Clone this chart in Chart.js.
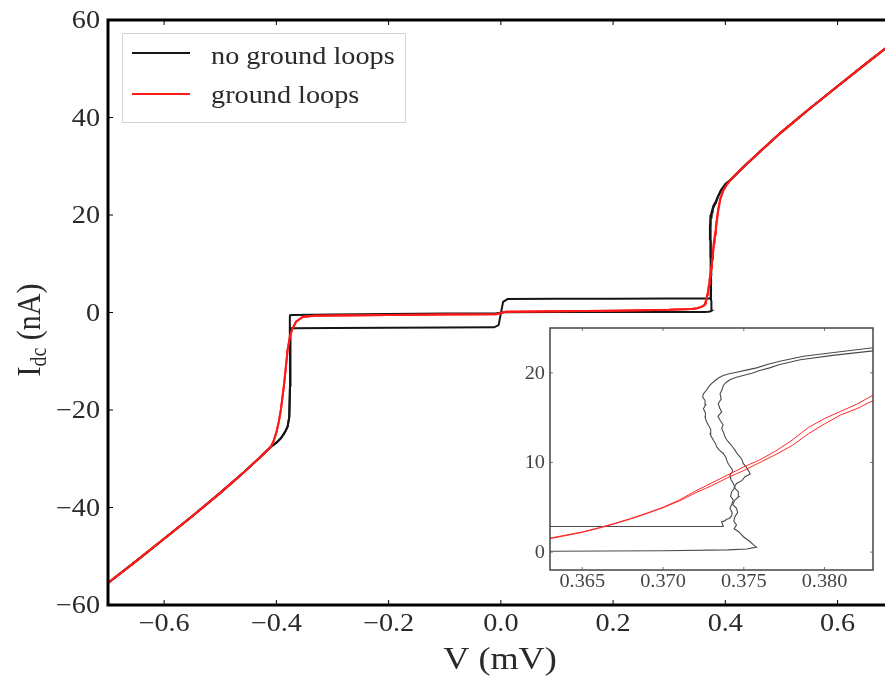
<!DOCTYPE html>
<html>
<head>
<meta charset="utf-8">
<title>I-V curve</title>
<script src="https://cdn.jsdelivr.net/npm/chart.js@4.4.0/dist/chart.umd.min.js"></script>
<style>
  html, body { margin: 0; padding: 0; background: #fff; }
  #wrap { position: relative; width: 885px; height: 679px; }
  #main { position: absolute; left: 0; top: 0; }
  #inset { position: absolute; left: 505px; top: 320px; }
</style>
</head>
<body>
<div id="wrap">
  <canvas id="main" width="885" height="679"></canvas>
  <canvas id="inset" width="380" height="280"></canvas>
</div>
<script>
// --- tick labels / legend ---
const xTicks = [-0.6, -0.4, -0.2, 0.0, 0.2, 0.4, 0.6];
const yTicks = [-60, -40, -20, 0, 20, 40, 60];
const insetXTicks = [0.365, 0.370, 0.375, 0.380];
const insetYTicks = [0, 10, 20];
const seriesNames = ['no ground loops', 'ground loops'];

// --- quasiparticle branches (shared by every sweep), V in mV, I in nA ---
const negBranchV = [-0.70, -0.65, -0.60, -0.55, -0.50, -0.46, -0.43, -0.41];
const negBranchI = [-55.5, -51.0, -46.4, -41.8, -37.0, -33.0, -29.8, -27.6];
const posBranchV = [0.41, 0.43, 0.46, 0.50, 0.55, 0.60, 0.65, 0.70];
const posBranchI = [27.3, 29.6, 32.8, 37.0, 41.8, 46.4, 51.0, 55.5];

// --- no ground loops, sweep 1 (upper step on the left, lower step on the right) ---
const blackAV = [-0.400, -0.392, -0.385, -0.380, -0.377, -0.3757, -0.3758, -0.3760, -0.3755, -0.370,
  -0.300, -0.200, -0.100, -0.008, 0.008, 0.100, 0.200, 0.300, 0.363, 0.370, 0.3740, 0.3752,
  0.37579, 0.37560, 0.37538, 0.37520, 0.37496, 0.37480, 0.37466, 0.37440, 0.37455, 0.37438,
  0.37445, 0.37462, 0.37455, 0.37432, 0.37445, 0.37470, 0.37466, 0.37440, 0.37455, 0.37490,
  0.37507, 0.37540, 0.37527, 0.37515, 0.37496, 0.37490, 0.37476, 0.37460, 0.37445, 0.37432,
  0.37414, 0.37395, 0.37383, 0.37376, 0.37363, 0.37372, 0.37353, 0.37340, 0.37363, 0.37350,
  0.37342, 0.37360, 0.37353, 0.37365, 0.37373, 0.37392, 0.37414, 0.37450, 0.37496, 0.37550,
  0.37599, 0.37660, 0.37723, 0.3785, 0.3805, 0.3830, 0.387, 0.392, 0.400];
const blackAI = [-26.7, -25.8, -24.6, -23.4, -21.4, -15.0, -5.0, -1.0, -0.55, -0.5,
  -0.42, -0.33, -0.22, -0.15, 0.05, 0.08, 0.10, 0.10, 0.10, 0.15, 0.25, 0.35,
  0.55, 0.80, 1.18, 1.40, 1.74, 2.05, 2.29, 2.60, 3.03, 3.45,
  3.96, 4.40, 4.89, 5.30, 5.81, 6.20, 6.74, 7.20, 7.66, 8.00,
  8.40, 8.70, 9.14, 9.50, 9.89, 10.25, 10.63, 10.95, 11.37, 11.70,
  12.11, 12.50, 12.85, 13.30, 13.77, 14.20, 14.70, 15.15, 15.63, 16.10,
  16.55, 17.10, 17.66, 18.10, 18.59, 18.95, 19.22, 19.48, 19.70, 19.95,
  20.26, 20.55, 20.92, 21.45, 21.95, 22.45, 23.8, 25.0, 26.3];

// --- no ground loops, sweep 2 (lower step on the left, upper step on the right) ---
const blackBV = [-0.400, -0.392, -0.385, -0.380, -0.377, -0.3757, -0.3757, -0.374,
  -0.300, -0.200, -0.100, -0.012, -0.004, 0.004, 0.012, 0.100, 0.200, 0.300, 0.363, 0.370,
  0.37373, 0.37363, 0.37380, 0.37394, 0.37410, 0.37425, 0.37428, 0.37414, 0.37425, 0.37435,
  0.37418, 0.37425, 0.37445, 0.37435, 0.37420, 0.37414, 0.37432, 0.37425, 0.37405, 0.37394,
  0.37388, 0.37373, 0.37350, 0.37332, 0.37325, 0.37312, 0.37300, 0.37291, 0.37295, 0.37281,
  0.37268, 0.37260, 0.37262, 0.37250, 0.37265, 0.37260, 0.37245, 0.37250, 0.37268, 0.37281,
  0.37300, 0.37322, 0.37345, 0.37373, 0.37410, 0.37455, 0.37515, 0.37579, 0.37650, 0.37723,
  0.3787, 0.3807, 0.3830, 0.387, 0.392, 0.400];
const blackBI = [-26.7, -25.8, -24.6, -23.4, -21.4, -15.0, -3.6, -3.25,
  -3.2, -3.15, -3.1, -3.05, -2.6, 2.2, 2.75, 2.8, 2.82, 2.85, 2.85, 2.85,
  2.85, 3.40, 3.45, 3.66, 3.75, 4.03, 4.40, 4.89, 5.30, 5.81,
  6.25, 6.74, 7.20, 7.66, 8.10, 8.59, 8.95, 9.33, 9.80, 10.26,
  10.60, 11.00, 11.35, 11.74, 12.10, 12.48, 12.85, 13.22, 13.70, 14.14,
  14.60, 15.07, 15.55, 16.00, 16.45, 16.92, 17.30, 17.66, 18.05, 18.40,
  18.80, 19.14, 19.45, 19.70, 19.90, 20.07, 20.30, 20.55, 20.95, 21.29,
  21.85, 22.3, 22.8, 23.8, 25.0, 26.3];

// --- ground loops, sweep 1 and sweep 2 ---
const redUpV = [-0.405, -0.400, -0.396, -0.392, -0.386, -0.380, -0.376, -0.372, -0.365, -0.353,
  -0.333, -0.200, -0.100, -0.008, 0.008, 0.100, 0.200, 0.300, 0.340, 0.350, 0.356, 0.360,
  0.363, 0.364, 0.365, 0.366, 0.367, 0.368, 0.369, 0.370, 0.371, 0.372, 0.373, 0.374,
  0.375, 0.376, 0.377, 0.378, 0.379, 0.380, 0.381, 0.382, 0.383, 0.387, 0.391, 0.396, 0.403];
const redUpI = [-26.4, -24.6, -22.6, -20.0, -14.5, -7.7, -5.0, -3.5, -1.9, -0.9,
  -0.65, -0.5, -0.42, -0.35, 0.15, 0.25, 0.38, 0.55, 0.72, 0.88, 1.1, 1.3,
  1.56, 1.9, 2.25, 2.7, 3.2, 3.75, 4.35, 5.0, 5.8, 6.8, 7.7, 8.6,
  9.5, 10.3, 11.3, 12.5, 13.9, 14.9, 15.7, 16.5, 17.5, 21.0, 23.4, 25.0, 26.3];
const redDownV = [-0.405, -0.400, -0.396, -0.392, -0.386, -0.380, -0.376, -0.372, -0.365, -0.353,
  -0.333, -0.200, -0.100, -0.008, 0.008, 0.100, 0.200, 0.300, 0.340, 0.350, 0.356, 0.360,
  0.363, 0.364, 0.365, 0.366, 0.367, 0.368, 0.369, 0.370, 0.371, 0.372, 0.373, 0.374,
  0.375, 0.376, 0.377, 0.378, 0.379, 0.380, 0.381, 0.382, 0.383, 0.387, 0.391, 0.396, 0.403];
const redDownI = [-26.4, -24.6, -22.6, -20.0, -14.5, -7.7, -5.0, -3.5, -1.9, -0.9,
  -0.65, -0.5, -0.42, -0.35, 0.15, 0.25, 0.38, 0.55, 0.72, 0.88, 1.1, 1.3,
  1.5, 1.85, 2.2, 2.65, 3.15, 3.7, 4.3, 4.95, 5.7, 6.6, 7.4, 8.3,
  9.1, 10.0, 10.9, 11.9, 13.2, 14.3, 15.3, 16.0, 16.9, 20.6, 23.2, 24.9, 26.3];

const BLACK = '#151515';
const RED = '#ff1a1a';
const SERIF = '"Liberation Serif", "Times New Roman", serif';
const STRETCH = 1.13; // the original lettering is a little wider than Times

// build a full sweep: left branch -> middle -> right branch
function sweep(midV, midI) {
  const vs = [...negBranchV, ...midV, ...posBranchV];
  const is = [...negBranchI, ...midI, ...posBranchI];
  return vs.map((v, k) => ({ x: v, y: is[k] }));
}

function fmt(v, d) {
  const s = Math.abs(v).toFixed(d);
  return v < 0 ? '\u2212' + s : s;
}

function text(ctx, str, x, y, size, align, color) {
  ctx.save();
  ctx.font = size + 'px ' + SERIF;
  ctx.fillStyle = color;
  ctx.textAlign = align;
  ctx.textBaseline = 'alphabetic';
  ctx.translate(x, y);
  ctx.scale(STRETCH, 1);
  ctx.fillText(str, 0, 0);
  ctx.restore();
}

function seg(ctx, x1, y1, x2, y2) {
  ctx.beginPath();
  ctx.moveTo(x1, y1);
  ctx.lineTo(x2, y2);
  ctx.stroke();
}

function makeDatasets(lwBlack, lwRed, black, red) {
  return [
    { label: seriesNames[1], data: sweep(redUpV, redUpI), borderColor: red, borderWidth: lwRed, order: 0 },
    { label: seriesNames[1], data: sweep(redDownV, redDownI), borderColor: red, borderWidth: lwRed, order: 0 },
    { label: seriesNames[0], data: sweep(blackAV, blackAI), borderColor: black, borderWidth: lwBlack, order: 1 },
    { label: seriesNames[0], data: sweep(blackBV, blackBI), borderColor: black, borderWidth: lwBlack, order: 1 }
  ].map(d => Object.assign(d, { showLine: true, pointRadius: 0, fill: false, tension: 0 }));
}

// frame, inward ticks, labels and legend of the main plot
const mainFrame = {
  id: 'mainFrame',
  afterDraw(chart) {
    const { ctx, chartArea: a, scales: { x, y } } = chart;
    ctx.save();
    ctx.strokeStyle = '#000';
    ctx.lineWidth = 1;
    xTicks.forEach(v => {
      const px = x.getPixelForValue(v);
      seg(ctx, px, a.bottom, px, a.bottom - 5);
      seg(ctx, px, a.top, px, a.top + 5);
    });
    yTicks.forEach(v => {
      const py = y.getPixelForValue(v);
      seg(ctx, a.left, py, a.left + 5, py);
    });

    ctx.lineWidth = 3;
    ctx.beginPath();
    ctx.moveTo(a.right + 3, a.top);
    ctx.lineTo(a.left, a.top);
    ctx.lineTo(a.left, a.bottom);
    ctx.lineTo(a.right + 3, a.bottom);
    ctx.stroke();

    xTicks.forEach(v => text(ctx, fmt(v, 1), x.getPixelForValue(v), 631, 25, 'center', '#2a2a2a'));
    yTicks.forEach(v => text(ctx, fmt(v, 0), 100, y.getPixelForValue(v) + 8, 25, 'right', '#2a2a2a'));

    // axis titles
    text(ctx, 'V (mV)', 500, 669, 32, 'center', '#2a2a2a');
    ctx.save();
    ctx.translate(40, 330);
    ctx.rotate(-Math.PI / 2);
    ctx.scale(1, STRETCH);
    ctx.fillStyle = '#2a2a2a';
    ctx.textBaseline = 'alphabetic';
    ctx.font = '30px ' + SERIF;
    const wI = ctx.measureText('I').width;
    const wRest = ctx.measureText(' (nA)').width;
    ctx.font = '20px ' + SERIF;
    const wSub = ctx.measureText('dc').width;
    const sx = -(wI + wSub + wRest) / 2;
    ctx.font = '30px ' + SERIF;
    ctx.fillText('I', sx, 0);
    ctx.font = '20px ' + SERIF;
    ctx.fillText('dc', sx + wI, 5);
    ctx.font = '30px ' + SERIF;
    ctx.fillText(' (nA)', sx + wI + wSub, 0);
    ctx.restore();

    // legend
    ctx.fillStyle = '#fff';
    ctx.fillRect(122, 33, 283, 89);
    ctx.strokeStyle = '#d4d4d4';
    ctx.lineWidth = 1;
    ctx.strokeRect(122.5, 33.5, 283, 89);
    const entries = [[seriesNames[0], BLACK, 53, 64], [seriesNames[1], RED, 94, 103]];
    entries.forEach(([name, col, ly, by]) => {
      ctx.strokeStyle = col;
      ctx.lineWidth = 2;
      seg(ctx, 132, ly, 190, ly);
      text(ctx, name, 211, by, 25, 'left', '#2a2a2a');
    });
    ctx.restore();
  }
};

const insetFrame = {
  id: 'insetFrame',
  beforeDraw(chart) {
    const { ctx, chartArea: a } = chart;
    ctx.save();
    ctx.fillStyle = '#fff';
    ctx.fillRect(a.left, a.top, a.right - a.left, a.bottom - a.top);
    ctx.restore();
  },
  afterDraw(chart) {
    const { ctx, chartArea: a, scales: { x, y } } = chart;
    ctx.save();
    ctx.strokeStyle = '#777';
    ctx.lineWidth = 1;
    insetXTicks.forEach(v => {
      const px = x.getPixelForValue(v);
      seg(ctx, px, a.bottom, px, a.bottom - 3);
      seg(ctx, px, a.top, px, a.top + 3);
    });
    insetYTicks.forEach(v => {
      const py = y.getPixelForValue(v);
      seg(ctx, a.left, py, a.left + 3, py);
      seg(ctx, a.right, py, a.right - 3, py);
    });
    ctx.strokeStyle = '#444';
    ctx.lineWidth = 1.5;
    ctx.strokeRect(a.left, a.top, a.right - a.left, a.bottom - a.top);
    insetXTicks.forEach(v => text(ctx, v.toFixed(3), x.getPixelForValue(v), 267, 18, 'center', '#444'));
    insetYTicks.forEach(v => text(ctx, String(v), 40, y.getPixelForValue(v) + 6, 18, 'right', '#444'));
    ctx.restore();
  }
};

function hiddenAxis(min, max, fixed, ticks, isX) {
  return {
    type: 'linear', min: min, max: max,
    grid: { display: false }, border: { display: false }, ticks: { display: false },
    afterBuildTicks: s => { s.ticks = ticks.map(v => ({ value: v })); },
    afterFit: s => { if (isX) { s.height = fixed; } else { s.width = fixed; } }
  };
}

new Chart(document.getElementById('main'), {
  type: 'scatter',
  data: { datasets: makeDatasets(2, 2, BLACK, RED) },
  options: {
    responsive: false, animation: false, events: [],
    layout: { padding: { top: 20, right: 0, left: 0, bottom: 0 } },
    plugins: { legend: { display: false }, tooltip: { enabled: false } },
    scales: {
      x: hiddenAxis(-0.7, 0.6845, 74, xTicks, true),
      y: hiddenAxis(-60, 60, 108, yTicks, false)
    }
  },
  plugins: [mainFrame]
});

new Chart(document.getElementById('inset'), {
  type: 'scatter',
  data: { datasets: makeDatasets(1.1, 1, '#4a4a4a', '#ff2a2a') },
  options: {
    responsive: false, animation: false, events: [],
    layout: { padding: { top: 8, right: 12, left: 0, bottom: 0 } },
    plugins: { legend: { display: false }, tooltip: { enabled: false } },
    scales: {
      x: hiddenAxis(0.363, 0.383, 30, insetXTicks, true),
      y: hiddenAxis(-2, 25, 45, insetYTicks, false)
    }
  },
  plugins: [insetFrame]
});
</script>
</body>
</html>
